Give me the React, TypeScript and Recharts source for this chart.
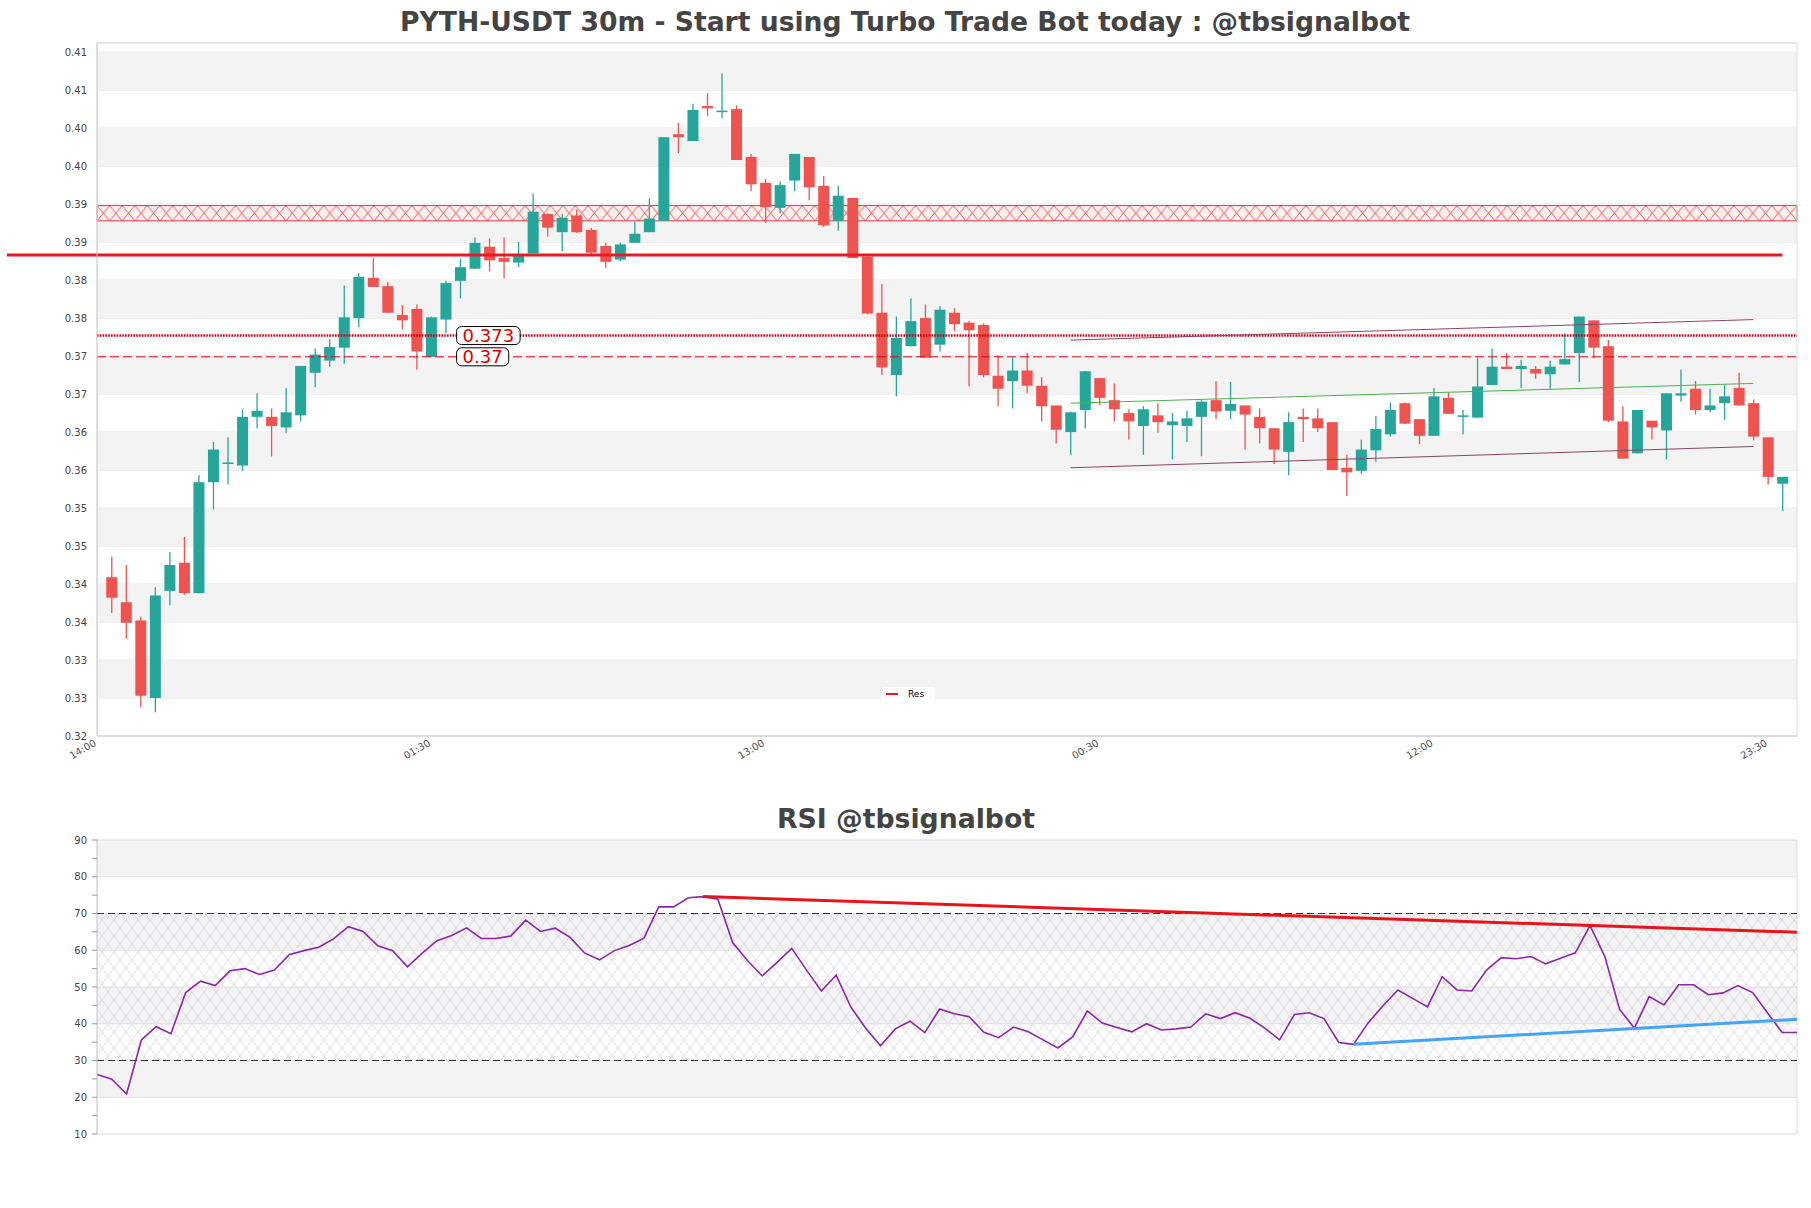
import React from 'react';
import {
  ComposedChart,
  Bar,
  Line,
  XAxis,
  YAxis,
  CartesianGrid,
  ReferenceArea,
  ReferenceLine,
  ReferenceDot,
} from 'recharts';

// ---------- Candle data (30m PYTH-USDT) ----------
const opens = [
  0.3409, 0.3376, 0.3352, 0.3250, 0.3391, 0.3428, 0.3388, 0.3534, 0.3558, 0.3556,
  0.3620, 0.3620, 0.3606, 0.3622, 0.3678, 0.3694, 0.3711, 0.3750, 0.3803, 0.3792,
  0.3754, 0.3762, 0.3699, 0.3748, 0.3799, 0.3815, 0.3844, 0.3829, 0.3823, 0.3835,
  0.3887, 0.3863, 0.3885, 0.3866, 0.3845, 0.3827, 0.3849, 0.3863, 0.3878, 0.3992,
  0.3983, 0.4029, 0.4021, 0.4025, 0.3962, 0.3928, 0.3895, 0.3931, 0.3962, 0.3924,
  0.3878, 0.3908, 0.3831, 0.3757, 0.3675, 0.3713, 0.3750, 0.3715, 0.3757, 0.3744,
  0.3741, 0.3674, 0.3667, 0.3681, 0.3661, 0.3635, 0.3600, 0.3629, 0.3671, 0.3642,
  0.3625, 0.3608, 0.3622, 0.3609, 0.3608, 0.3620, 0.3642, 0.3628, 0.3635, 0.3620,
  0.3605, 0.3574, 0.3620, 0.3618, 0.3613, 0.3553, 0.3549, 0.3576, 0.3597, 0.3638,
  0.3617, 0.3595, 0.3645, 0.3620, 0.3619, 0.3662, 0.3686, 0.3683, 0.3683, 0.3676,
  0.3689, 0.3704, 0.3747, 0.3713, 0.3614, 0.3572, 0.3615, 0.3602, 0.3648, 0.3657,
  0.3629, 0.3638, 0.3658, 0.3638, 0.3593, 0.3532,
];
const highs = [
  0.3436, 0.3425, 0.3357, 0.3396, 0.3442, 0.3462, 0.3543, 0.3587, 0.3593, 0.3630,
  0.3651, 0.3631, 0.3658, 0.3687, 0.3710, 0.3722, 0.3793, 0.3809, 0.3829, 0.3797,
  0.3767, 0.3768, 0.3752, 0.3799, 0.3828, 0.3856, 0.3855, 0.3856, 0.3850, 0.3914,
  0.3888, 0.3887, 0.3893, 0.3869, 0.3849, 0.3849, 0.3877, 0.3907, 0.3988, 0.4007,
  0.4032, 0.4046, 0.4072, 0.4030, 0.3966, 0.3933, 0.3930, 0.3966, 0.3962, 0.3937,
  0.3924, 0.3908, 0.3831, 0.3795, 0.3752, 0.3776, 0.3768, 0.3766, 0.3763, 0.3746,
  0.3743, 0.3701, 0.3698, 0.3704, 0.3672, 0.3635, 0.3627, 0.3680, 0.3671, 0.3664,
  0.3630, 0.3634, 0.3638, 0.3625, 0.3628, 0.3642, 0.3667, 0.3666, 0.3635, 0.3631,
  0.3605, 0.3626, 0.3631, 0.3631, 0.3613, 0.3570, 0.3590, 0.3621, 0.3639, 0.3639,
  0.3617, 0.3658, 0.3652, 0.3629, 0.3698, 0.3710, 0.3704, 0.3695, 0.3687, 0.3694,
  0.3730, 0.3752, 0.3747, 0.3721, 0.3634, 0.3629, 0.3615, 0.3651, 0.3682, 0.3667,
  0.3657, 0.3662, 0.3678, 0.3643, 0.3593, 0.3541,
];
const lows = [
  0.3362, 0.3328, 0.3238, 0.3231, 0.3372, 0.3386, 0.3388, 0.3498, 0.3531, 0.3549,
  0.3605, 0.3568, 0.3599, 0.3614, 0.3659, 0.3686, 0.3690, 0.3738, 0.3791, 0.3757,
  0.3735, 0.3682, 0.3699, 0.3730, 0.3776, 0.3815, 0.3811, 0.3802, 0.3817, 0.3835,
  0.3857, 0.3838, 0.3862, 0.3832, 0.3816, 0.3825, 0.3849, 0.3863, 0.3878, 0.3967,
  0.3983, 0.4016, 0.4013, 0.3958, 0.3917, 0.3875, 0.3888, 0.3917, 0.3905, 0.3870,
  0.3865, 0.3829, 0.3755, 0.3675, 0.3647, 0.3713, 0.3698, 0.3706, 0.3733, 0.3660,
  0.3672, 0.3634, 0.3631, 0.3651, 0.3614, 0.3585, 0.3570, 0.3605, 0.3635, 0.3614,
  0.3590, 0.3570, 0.3599, 0.3564, 0.3587, 0.3568, 0.3617, 0.3617, 0.3577, 0.3585,
  0.3558, 0.3543, 0.3587, 0.3600, 0.3550, 0.3516, 0.3545, 0.3561, 0.3594, 0.3611,
  0.3584, 0.3595, 0.3624, 0.3597, 0.3619, 0.3662, 0.3683, 0.3658, 0.3670, 0.3657,
  0.3689, 0.3666, 0.3697, 0.3613, 0.3565, 0.3572, 0.3590, 0.3564, 0.3640, 0.3623,
  0.3626, 0.3616, 0.3635, 0.3589, 0.3531, 0.3496,
];
const closes = [
  0.3382, 0.3349, 0.3253, 0.3385, 0.3425, 0.3388, 0.3534, 0.3577, 0.3560, 0.3620,
  0.3628, 0.3608, 0.3626, 0.3687, 0.3702, 0.3712, 0.3751, 0.3804, 0.3791, 0.3757,
  0.3747, 0.3706, 0.3751, 0.3796, 0.3817, 0.3849, 0.3826, 0.3824, 0.3834, 0.3890,
  0.3869, 0.3882, 0.3863, 0.3836, 0.3824, 0.3847, 0.3861, 0.3881, 0.3988, 0.3988,
  0.4024, 0.4026, 0.4023, 0.3958, 0.3926, 0.3896, 0.3925, 0.3966, 0.3922, 0.3872,
  0.3911, 0.3829, 0.3756, 0.3685, 0.3724, 0.3746, 0.3698, 0.3761, 0.3742, 0.3734,
  0.3675, 0.3657, 0.3681, 0.3661, 0.3634, 0.3603, 0.3626, 0.3680, 0.3645, 0.3630,
  0.3614, 0.3630, 0.3613, 0.3614, 0.3618, 0.3640, 0.3627, 0.3637, 0.3623, 0.3605,
  0.3577, 0.3613, 0.3617, 0.3605, 0.3550, 0.3547, 0.3577, 0.3604, 0.3629, 0.3611,
  0.3595, 0.3647, 0.3624, 0.3622, 0.3660, 0.3686, 0.3683, 0.3687, 0.3677, 0.3686,
  0.3696, 0.3752, 0.3711, 0.3615, 0.3565, 0.3629, 0.3606, 0.3651, 0.3651, 0.3629,
  0.3635, 0.3647, 0.3635, 0.3594, 0.3541, 0.3541,
];

// ---------- RSI data ----------
const rsiValues = [
  26.2, 24.9, 20.9, 35.6, 39.2, 37.3, 48.5, 51.6, 50.4, 54.4,
  55.0, 53.4, 54.6, 58.8, 59.9, 60.8, 63.1, 66.4, 65.1, 61.2,
  59.9, 55.5, 59.2, 62.6, 64.0, 66.1, 63.2, 63.2, 63.9, 68.2,
  65.1, 66.0, 63.5, 59.2, 57.4, 59.9, 61.3, 63.3, 71.8, 71.8,
  74.3, 74.6, 73.9, 62.1, 57.2, 53.0, 56.7, 60.5, 54.6, 48.9,
  53.2, 44.5, 38.8, 34.0, 38.6, 40.7, 37.6, 44.0, 42.7, 41.9,
  37.7, 36.2, 39.1, 37.8, 35.6, 33.4, 36.4, 43.5, 40.2, 39.0,
  37.8, 40.0, 38.3, 38.6, 39.1, 42.7, 41.4, 43.0, 41.5, 38.8,
  35.6, 42.5, 43.0, 41.4, 34.9, 34.4, 40.3, 44.9, 49.2, 46.9,
  44.6, 52.8, 49.2, 48.9, 54.6, 58.0, 57.7, 58.3, 56.3, 57.8,
  59.3, 66.7, 58.3, 43.9, 38.8, 47.4, 45.1, 50.6, 50.6, 47.9,
  48.4, 50.4, 48.5, 43.0, 37.6, 37.6,
];

// ---------- Axes / ticks ----------
const xDomain = [-1, 116];
const xTickIdx = [-1, 22, 45, 68, 91, 114];
const xTickLabels = ['14:00', '01:30', '13:00', '00:30', '12:00', '23:30'];

const priceDomain = [0.32, 0.4112];
const priceTicks = [
  0.32, 0.325, 0.33, 0.335, 0.34, 0.345, 0.35, 0.355, 0.36, 0.365,
  0.37, 0.375, 0.38, 0.385, 0.39, 0.395, 0.4, 0.405, 0.41,
];
const priceTickLabels = [
  '0.32', '0.33', '0.33', '0.34', '0.34', '0.35', '0.35', '0.36', '0.36', '0.37',
  '0.37', '0.38', '0.38', '0.39', '0.39', '0.40', '0.40', '0.41', '0.41',
];
const priceBands = [
  [0.325, 0.33], [0.335, 0.34], [0.345, 0.35], [0.355, 0.36], [0.365, 0.37],
  [0.375, 0.38], [0.385, 0.39], [0.395, 0.4], [0.405, 0.41],
];

// ---------- Levels / annotations ----------
const resLevel = 0.3833;
const resFromIdx = -7.2;
const resToIdx = 115;
const resZone = [0.3878, 0.3898];
const levelValues = [0.3727, 0.3699];
const levelLabels = ['0.373', '0.37'];
const levelLabelIdx = 23.75;
const channelIdx = [66, 113];
const channelUpper = [0.3721, 0.3748];
const channelMid = [0.3638, 0.3664];
const channelLower = [0.3553, 0.3581];

// ---------- RSI axes / annotations ----------
const rsiDomain = [10, 90];
const rsiTicks = [10, 15, 20, 25, 30, 35, 40, 45, 50, 55, 60, 65, 70, 75, 80, 85, 90];
const rsiGridValues = [20, 30, 40, 50, 60, 70, 80];
const rsiBands = [[20, 30], [40, 50], [60, 70], [80, 90]];
const rsiZone = [30, 70];
const rsiLevels = [70, 30];
const rsiDownTrend = [{ x: 41, y: 74.6 }, { x: 115, y: 64.9 }];
const rsiUpTrend = [{ x: 85, y: 34.4 }, { x: 115, y: 41.2 }];

const candleData = opens.map((o, i) => ({
  i,
  o,
  h: highs[i],
  l: lows[i],
  c: closes[i],
  range: [lows[i], highs[i]],
}));
const rsiData = rsiValues.map((v, i) => ({ i, rsi: v }));

const UP = '#26a69a';
const DOWN = '#ef5350';

const Candle = (props: any) => {
  const { x, y, width, height, payload } = props;
  if (x == null || y == null || !payload) return null;
  const { o, h, l, c } = payload;
  const top = Math.min(y, y + height);
  const bot = Math.max(y, y + height);
  const span = h - l;
  const py = (v: number) => (span === 0 ? top : top + ((h - v) / span) * (bot - top));
  const color = c >= o ? UP : DOWN;
  const cx = x + width / 2;
  const bTop = py(Math.max(o, c));
  const bBot = py(Math.min(o, c));
  return (
    <g>
      <line x1={cx} x2={cx} y1={top} y2={bot} stroke={color} strokeWidth={1.3} />
      <rect x={x} y={bTop} width={width} height={Math.max(1.5, bBot - bTop)} fill={color} />
    </g>
  );
};

const XTick = (props: any) => {
  const { x, y, payload } = props;
  const k = xTickIdx.indexOf(payload.value);
  const label = k >= 0 ? xTickLabels[k] : '';
  return (
    <g transform={`translate(${x},${y + 3})`}>
      <text x={0} y={0} textAnchor="end" fontSize={10} fill="#555" transform="rotate(-30)">
        {label}
      </text>
    </g>
  );
};

const charW = (s: string) =>
  s.split('').reduce((a, ch) => a + (ch === '.' ? 0.318 : 0.636), 0);

const makeLevelLabel = (label: string) => (props: any) => {
  const { cx, cy } = props;
  if (cx == null || cy == null) return null;
  const fs = 18;
  const w = charW(label) * fs + 12;
  return (
    <g>
      <rect x={cx} y={cy - 9} width={w} height={18} rx={5} ry={5} fill="#fff" stroke="#000" strokeWidth={1} />
      <text x={cx + 6} y={cy + 6.5} fontSize={fs} fill="#e00000">
        {label}
      </text>
    </g>
  );
};

export default function App() {
  return (
    <div
      style={{
        position: 'absolute',
        left: 0,
        top: 0,
        width: 1811,
        height: 1208,
        background: '#fff',
        fontFamily: '"DejaVu Sans", Verdana, sans-serif',
      }}
    >
      <svg width={0} height={0} style={{ position: 'absolute' }}>
        <defs>
          <pattern
            id="resZoneHatch"
            patternUnits="objectBoundingBox"
            x="0"
            y="0"
            width={1 / 135}
            height="1"
            viewBox="0 0 10 10"
            preserveAspectRatio="none"
          >
            <rect width="10" height="10" fill="#fff1ef" />
            <path d="M0,0 L10,10 M10,0 L0,10" stroke="#e53935" strokeWidth="0.6" />
          </pattern>
          <pattern id="rsiHatch" patternUnits="userSpaceOnUse" width="12" height="16">
            <path d="M0,0 L12,16 M12,0 L0,16" stroke="#cfc4dc" strokeWidth="0.6" fill="none" />
          </pattern>
        </defs>
      </svg>

      {/* Main candle chart */}
      <div style={{ position: 'absolute', left: 0, top: 0 }}>
        <ComposedChart
          width={1811}
          height={800}
          data={candleData}
          margin={{ top: 43, right: 14, left: 0, bottom: 24 }}
        >
          {priceBands.map((b, k) => (
            <ReferenceArea key={`pb${k}`} y1={b[0]} y2={b[1]} fill="#f3f3f3" fillOpacity={1} stroke="none" />
          ))}
          <CartesianGrid vertical={false} stroke="#e2e2e2" />
          <ReferenceArea
            y1={resZone[0]}
            y2={resZone[1]}
            fill="url(#resZoneHatch)"
            fillOpacity={1}
            stroke="#e53935"
            strokeWidth={1}
          />
          <ReferenceArea
            x1={xDomain[0]}
            x2={xDomain[1]}
            y1={priceDomain[0]}
            y2={priceDomain[1]}
            fill="none"
            stroke="#dcdcdc"
          />
          <XAxis
            type="number"
            dataKey="i"
            domain={xDomain}
            ticks={xTickIdx}
            allowDataOverflow
            interval={0}
            height={40}
            axisLine={{ stroke: '#d0d0d0' }}
            tickLine={false}
            tickSize={4}
            tickMargin={2}
            tick={<XTick />}
          />
          <YAxis
            type="number"
            domain={priceDomain}
            ticks={priceTicks}
            allowDataOverflow
            interval={0}
            width={97}
            axisLine={{ stroke: '#d0d0d0' }}
            tickLine={false}
            tickSize={5}
            tickMargin={5}
            tick={{ fontSize: 10, fill: '#444' }}
            tickFormatter={(v: number) => {
              const k = priceTicks.findIndex((t) => Math.abs(t - v) < 1e-9);
              return k >= 0 ? priceTickLabels[k] : '';
            }}
          />
          <ReferenceLine y={levelValues[0]} stroke="#d50000" strokeWidth={2.4} strokeDasharray="1.6 1.2" />
          <ReferenceLine y={levelValues[1]} stroke="#e00000" strokeWidth={1} strokeDasharray="9 4" />
          <Bar dataKey="range" barSize={11} shape={<Candle />} isAnimationActive={false} />
          <ReferenceLine
            segment={[{ x: channelIdx[0], y: channelUpper[0] }, { x: channelIdx[1], y: channelUpper[1] }]}
            stroke="#8a4466"
            strokeWidth={1}
          />
          <ReferenceLine
            segment={[{ x: channelIdx[0], y: channelMid[0] }, { x: channelIdx[1], y: channelMid[1] }]}
            stroke="#4caf50"
            strokeWidth={1}
          />
          <ReferenceLine
            segment={[{ x: channelIdx[0], y: channelLower[0] }, { x: channelIdx[1], y: channelLower[1] }]}
            stroke="#8a4466"
            strokeWidth={1}
          />
          <ReferenceLine
            segment={[{ x: resFromIdx, y: resLevel }, { x: resToIdx, y: resLevel }]}
            stroke="#e81b23"
            strokeWidth={2.8}
            ifOverflow="visible"
          />
          {levelValues.map((v, k) => (
            <ReferenceDot
              key={`lv${k}`}
              x={levelLabelIdx}
              y={v}
              r={0}
              shape={makeLevelLabel(levelLabels[k])}
            />
          ))}
        </ComposedChart>
      </div>

      {/* RSI chart */}
      <div style={{ position: 'absolute', left: 0, top: 800 }}>
        <ComposedChart
          width={1811}
          height={400}
          data={rsiData}
          margin={{ top: 40, right: 14, left: 0, bottom: 66 }}
        >
          {rsiBands.map((b, k) => (
            <ReferenceArea key={`rb${k}`} y1={b[0]} y2={b[1]} fill="#f3f3f3" fillOpacity={1} stroke="none" />
          ))}
          {rsiGridValues.map((v) => (
            <ReferenceLine key={`rg${v}`} y={v} stroke="#e0e0e0" strokeWidth={1} />
          ))}
          <ReferenceArea y1={rsiZone[0]} y2={rsiZone[1]} fill="url(#rsiHatch)" fillOpacity={1} stroke="none" />
          <ReferenceArea
            x1={0}
            x2={115}
            y1={rsiDomain[0]}
            y2={rsiDomain[1]}
            fill="none"
            stroke="#dcdcdc"
          />
          <XAxis type="number" dataKey="i" domain={[0, 115]} hide allowDataOverflow />
          <YAxis
            type="number"
            domain={rsiDomain}
            ticks={rsiTicks}
            interval={0}
            allowDataOverflow
            width={97}
            axisLine={{ stroke: '#d0d0d0' }}
            tickLine={{ stroke: '#999' }}
            tickSize={5}
            tickMargin={5}
            tick={{ fontSize: 10, fill: '#444' }}
            tickFormatter={(v: number) => (v % 10 === 0 ? String(v) : '')}
          />
          {rsiLevels.map((v) => (
            <ReferenceLine key={`rl${v}`} y={v} stroke="#333" strokeWidth={1.2} strokeDasharray="7 4" />
          ))}
          <Line
            type="linear"
            dataKey="rsi"
            stroke="#8e24aa"
            strokeWidth={1.6}
            dot={false}
            isAnimationActive={false}
          />
          <ReferenceLine segment={rsiDownTrend} stroke="#e8141b" strokeWidth={3} />
          <ReferenceLine segment={rsiUpTrend} stroke="#42a5f5" strokeWidth={3} />
        </ComposedChart>
      </div>

      {/* Titles */}
      <svg
        width={1811}
        height={1208}
        style={{ position: 'absolute', left: 0, top: 0, pointerEvents: 'none' }}
      >
        <text
          x={905}
          y={31}
          textAnchor="middle"
          fontSize={26.4}
          fontWeight="bold"
          fill="#444"
          textLength={1010}
          lengthAdjust="spacingAndGlyphs"
        >
          PYTH-USDT 30m - Start using Turbo Trade Bot today : @tbsignalbot
        </text>
        <text
          x={906}
          y={828}
          textAnchor="middle"
          fontSize={26.5}
          fontWeight="bold"
          fill="#444"
          textLength={258}
          lengthAdjust="spacingAndGlyphs"
        >
          RSI @tbsignalbot
        </text>
      </svg>

      {/* Legend */}
      <div
        style={{
          position: 'absolute',
          left: 881,
          top: 687,
          width: 54,
          height: 14,
          background: '#fff',
          borderRadius: 3,
          display: 'flex',
          alignItems: 'center',
        }}
      >
        <div style={{ width: 12, height: 2, background: '#e81b23', marginLeft: 5 }} />
        <span style={{ fontSize: 9, color: '#000', marginLeft: 10, lineHeight: '14px' }}>Res</span>
      </div>
    </div>
  );
}
